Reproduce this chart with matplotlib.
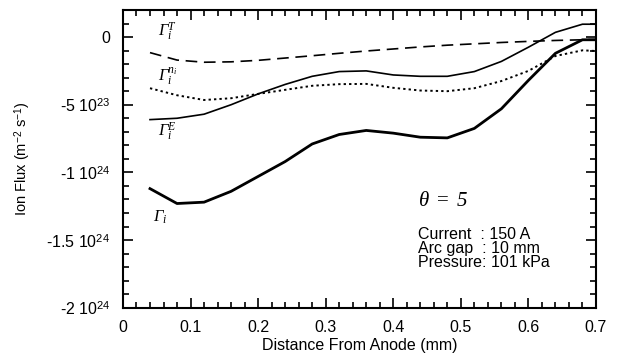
import matplotlib
matplotlib.use("Agg")
import matplotlib.pyplot as plt
from matplotlib.ticker import MultipleLocator, FixedLocator

plt.rcParams['font.family'] = ['Liberation Sans', 'DejaVu Sans']
plt.rcParams['mathtext.fontset'] = 'custom'
plt.rcParams['mathtext.rm'] = 'Liberation Serif'
plt.rcParams['mathtext.it'] = 'Liberation Serif:italic'
plt.rcParams['mathtext.cal'] = 'Liberation Serif:italic'
plt.rcParams['mathtext.sf'] = 'Liberation Sans'

# distance from anode (mm)
dist = [0.04, 0.08, 0.12, 0.16, 0.20, 0.24, 0.28, 0.32, 0.36, 0.40,
        0.44, 0.48, 0.52, 0.56, 0.60, 0.64, 0.68, 0.70]

# ion flux components (1e24 m^-2 s^-1)
gamma_total = [-1.12, -1.23, -1.22, -1.14, -1.03, -0.92, -0.79, -0.72, -0.69, -0.71,
               -0.74, -0.745, -0.675, -0.53, -0.32, -0.12, -0.02, -0.02]
gamma_E = [-0.61, -0.60, -0.57, -0.50, -0.42, -0.35, -0.29, -0.255, -0.25, -0.28,
           -0.29, -0.29, -0.255, -0.18, -0.075, 0.035, 0.095, 0.095]
gamma_n = [-0.378, -0.43, -0.465, -0.452, -0.42, -0.39, -0.36, -0.348, -0.346, -0.375,
           -0.395, -0.40, -0.378, -0.325, -0.25, -0.14, -0.098, -0.103]
gamma_T = [-0.115, -0.17, -0.186, -0.183, -0.172, -0.155, -0.138, -0.12, -0.103, -0.088,
           -0.073, -0.06, -0.05, -0.04, -0.032, -0.025, -0.02, -0.018]

xtick_vals = [0, 0.1, 0.2, 0.3, 0.4, 0.5, 0.6, 0.7]
xtick_labels = ['0', '0.1', '0.2', '0.3', '0.4', '0.5', '0.6', '0.7']
ytick_vals = [0, -0.5, -1.0, -1.5, -2.0]
ytick_labels = ['0', '-5 10$^{\\mathsf{23}}$', '-1 10$^{\\mathsf{24}}$',
                '-1.5 10$^{\\mathsf{24}}$', '-2 10$^{\\mathsf{24}}$']

fig = plt.figure(figsize=(6.29, 3.61), dpi=100)
ax = fig.add_axes([0.1955, 0.1476, 0.752, 0.8247])

ax.plot(dist, gamma_total, color='black', lw=2.0)
ax.plot(dist, gamma_E, color='black', lw=1.2)
ax.plot(dist, gamma_n, color='black', lw=1.4, linestyle=(0, (1.2, 1.6)))
ax.plot(dist, gamma_T, color='black', lw=1.2, linestyle=(0, (7, 4)))

ax.set_xlim(0, 0.7)
ax.set_ylim(-2.0, 0.2)
ax.xaxis.set_major_locator(FixedLocator(xtick_vals))
ax.xaxis.set_minor_locator(MultipleLocator(0.02))
ax.yaxis.set_major_locator(FixedLocator(ytick_vals))
ax.yaxis.set_minor_locator(MultipleLocator(0.1))
ax.set_xticklabels(xtick_labels)
ax.set_yticklabels(ytick_labels)
ax.tick_params(which='both', direction='in', top=True, right=True, labelsize=11.5, width=1.2)
ax.tick_params(which='major', length=7, pad=9)
ax.tick_params(which='minor', length=4)
for sp in ax.spines.values():
    sp.set_linewidth(1.5)

ax.set_xlabel('Distance From Anode (mm)', fontsize=11.5, labelpad=2)
ax.set_ylabel('Ion Flux (m$^{\\mathsf{-2}}$ s$^{\\mathsf{-1}}$)', fontsize=10.5, labelpad=10)

# curve labels (italic capital gamma through the cal slot)
lab = dict(fontsize=12, color='black', ha='left', va='center')
ax.text(0.052, 0.04, r'$\mathcal{Γ}_i^T$', **lab)
ax.text(0.052, -0.29, r'$\mathcal{Γ}_i^{n_i}$', **lab)
ax.text(0.052, -0.70, r'$\mathcal{Γ}_i^E$', **lab)
ax.text(0.045, -1.33, r'$\mathcal{Γ}_i$', **lab)

ax.text(0.437, -1.21, r'$\theta\ =\ \mathcal{5}$', fontsize=15, ha='left', va='center')
ax.text(0.437, -1.40, 'Current  : 150 A\nArc gap  : 10 mm\nPressure: 101 kPa',
        fontsize=11.5, ha='left', va='top', linespacing=0.95)

fig.savefig('out.png', dpi=100)
